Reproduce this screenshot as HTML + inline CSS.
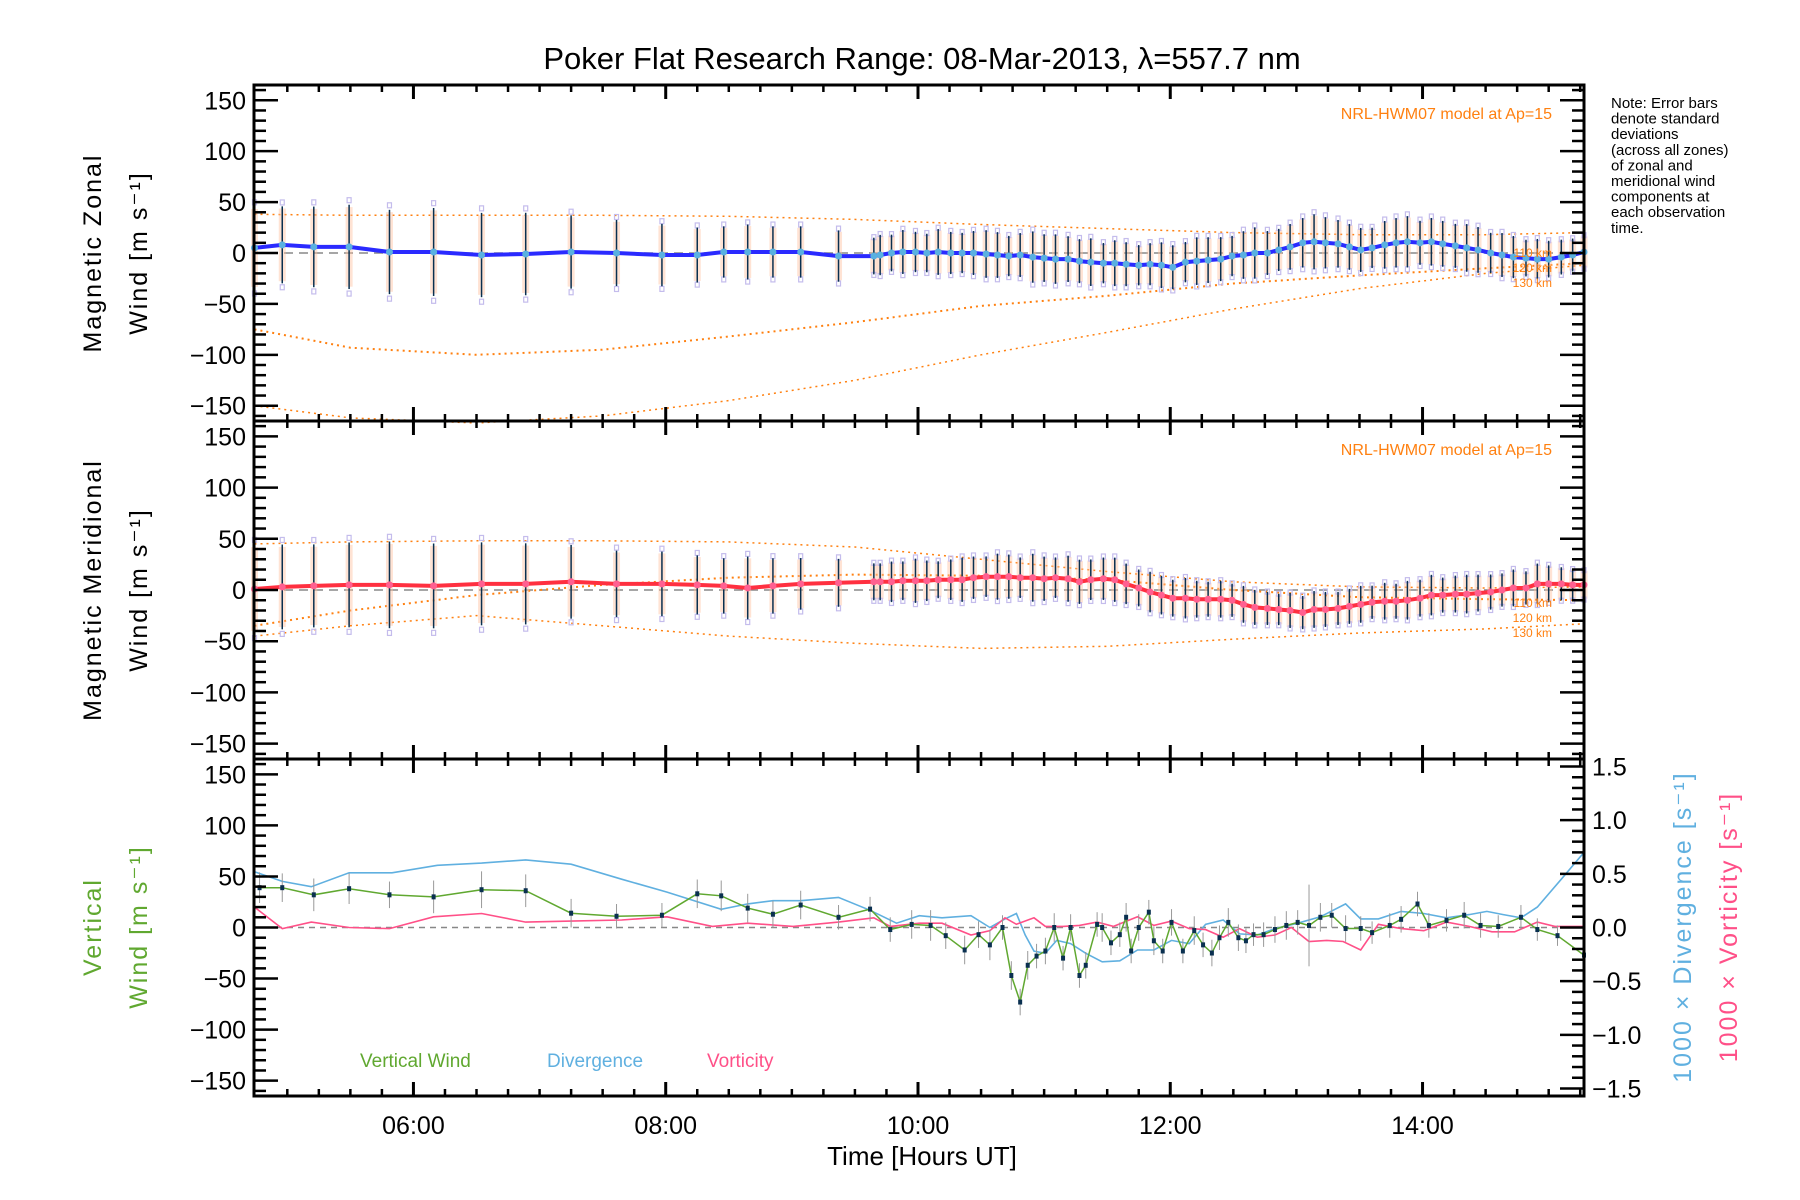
<!DOCTYPE html>
<html><head><meta charset="utf-8"><style>
html,body{margin:0;padding:0;background:#fff;}
svg{display:block;font-family:"Liberation Sans",sans-serif;}
</style></head><body>
<svg id="c" width="1800" height="1200" viewBox="0 0 1800 1200"></svg>
<script>
// ---- data ----
const obsTimes=[4.74,4.96,5.21,5.49,5.81,6.16,6.54,6.89,7.25,7.61,7.97,8.25,8.46,8.65,8.85,9.07,9.37,9.65,
9.70,9.79,9.88,9.98,10.07,10.16,10.26,10.35,10.44,10.54,10.63,10.72,10.81,10.91,11.00,11.09,11.19,11.28,11.37,11.47,11.56,11.65,11.75,11.84,11.93,12.02,12.12,12.21,12.30,12.40,12.49,12.58,12.67,12.77,12.86,12.95,13.05,13.14,13.23,13.33,13.42,13.51,13.60,13.70,13.79,13.88,13.98,14.07,14.16,14.26,14.35,14.44,14.54,14.63,14.72,14.82,14.91,15.00,15.10,15.19,15.28];
const zonalWind=[5,8,6,6,1,1,-2,-1,1,0,-2,-2,1,1,1,1,-3,-3,
-2,0,1,1,0,1,0,0,0,-1,-2,-3,-2,-4,-5,-6,-6,-8,-9,-10,-10,-11,-12,-11,-12,-14,-9,-8,-7,-6,-3,-2,0,0,3,6,10,11,10,9,6,3,5,8,10,11,10,11,9,7,5,3,0,-2,-4,-5,-6,-6,-4,-2,1];
const zonalSd=[45,42,44,46,46,48,46,45,40,36,34,30,28,30,28,28,28,20,
22,20,24,22,21,25,23,22,24,26,25,22,24,28,26,27,25,24,26,22,25,24,22,23,25,24,22,26,25,24,22,26,28,24,23,25,27,30,28,26,25,24,22,26,27,28,24,26,25,24,26,25,22,24,23,20,22,20,19,18,18];
const meridWind=[1,3,4,5,5,4,6,6,8,6,6,5,4,2,4,6,7,8,
8,8,9,9,9,10,10,10,12,13,13,13,12,12,11,12,11,8,10,11,10,6,2,-2,-5,-8,-8,-9,-9,-9,-10,-14,-17,-18,-19,-20,-22,-19,-19,-18,-16,-14,-12,-11,-11,-10,-8,-5,-5,-4,-4,-3,-2,0,2,2,6,6,6,5,5];
const meridSd=[48,46,45,46,47,46,45,44,40,36,35,32,30,34,30,28,26,20,
20,22,21,24,22,20,22,24,23,22,25,24,22,26,24,22,25,24,22,23,24,22,20,22,21,20,22,20,19,20,18,20,19,18,17,19,18,20,19,18,19,20,18,20,19,21,20,22,19,20,21,20,19,18,20,18,22,20,18,17,16];
// model (NRL-HWM07)
const modelT=[4.74,5.5,6.5,7.5,8.5,9.5,10.5,11.5,12.5,13.5,14.5,15.28];
const zonalM110=[38,37,37,37,36,33,28,24,20,18,18,20];
const zonalM120=[-75,-93,-100,-95,-82,-68,-52,-42,-30,-22,-15,-10];
const zonalM130=[-150,-162,-167,-160,-145,-125,-100,-78,-55,-35,-20,-12];
const meridM110=[45,47,48,48,47,42,30,18,8,3,2,3];
const meridM120=[-35,-20,-5,5,12,15,14,10,0,-7,-9,-10];
const meridM130=[-45,-35,-25,-35,-45,-52,-57,-55,-48,-42,-38,-33];
// vertical panel
const vertT=[4.78,4.96,5.21,5.49,5.81,6.16,6.54,6.89,7.25,7.61,7.97,8.25,8.44,8.65,8.85,9.07,9.37,9.62,9.78,9.95,10.10,10.22,10.37,10.48,10.57,10.67,10.74,10.81,10.87,10.94,11.01,11.08,11.15,11.21,11.28,11.33,11.42,11.46,11.53,11.60,11.65,11.69,11.75,11.83,11.87,11.94,12.01,12.10,12.19,12.26,12.33,12.39,12.46,12.54,12.60,12.66,12.74,12.83,12.92,13.01,13.10,13.19,13.28,13.39,13.51,13.60,13.74,13.83,13.96,14.05,14.19,14.33,14.46,14.60,14.78,14.91,15.07,15.28];
const vertWind=[39,39,32,38,32,30,37,36,14,11,12,33,31,19,13,22,10,18,-2,3,2,-8,-22,-7,-17,0,-47,-73,-37,-28,-23,0,-30,0,-47,-37,3,0,-15,-7,10,-23,0,15,-13,-23,5,-23,-3,-17,-25,-10,5,-10,-13,-7,-7,-2,2,5,2,10,12,-1,-1,-5,2,8,23,2,7,12,2,1,10,-2,-8,-27];
const vertSd=[15,14,16,15,13,16,18,16,14,12,12,14,15,14,13,14,12,12,12,14,15,13,14,13,15,12,14,13,14,12,13,14,12,13,12,13,12,14,12,12,14,12,13,12,14,12,13,12,14,12,13,12,14,13,12,11,12,13,14,12,40,14,12,13,12,11,12,13,12,12,11,13,12,11,12,11,10,10];
const divT=[4.74,4.96,5.19,5.49,5.83,6.19,6.54,6.89,7.25,7.65,8.01,8.44,8.65,8.85,9.07,9.37,9.62,9.83,10.01,10.19,10.42,10.57,10.69,10.78,10.85,10.92,11.01,11.10,11.21,11.33,11.46,11.60,11.74,11.87,12.01,12.15,12.28,12.42,12.55,12.69,12.83,13.01,13.19,13.39,13.51,13.65,13.83,14.01,14.19,14.37,14.51,14.64,14.78,14.91,15.10,15.28];
const divergence=[0.52,0.43,0.38,0.51,0.51,0.58,0.60,0.63,0.59,0.45,0.33,0.17,0.22,0.25,0.25,0.28,0.16,0.04,0.11,0.09,0.11,0.0,0.08,0.13,-0.07,-0.22,-0.24,-0.12,-0.15,-0.24,-0.32,-0.31,-0.21,-0.21,-0.12,-0.15,0.03,0.07,-0.06,-0.07,-0.01,0.04,0.10,0.22,0.08,0.08,0.15,0.13,0.09,0.12,0.15,0.12,0.09,0.19,0.45,0.70];
const vortT=[4.74,4.96,5.19,5.49,5.81,6.16,6.54,6.89,7.25,7.65,8.01,8.37,8.65,9.01,9.37,9.65,9.78,10.01,10.19,10.42,10.57,10.69,10.78,10.92,11.01,11.15,11.28,11.42,11.55,11.74,11.87,12.01,12.15,12.28,12.42,12.55,12.69,12.83,12.96,13.10,13.24,13.37,13.51,13.65,13.83,14.01,14.19,14.37,14.55,14.73,14.91,15.05,15.28];
const vorticity=[0.19,-0.01,0.05,0.0,-0.01,0.10,0.13,0.05,0.06,0.07,0.10,0.01,0.04,0.01,0.05,0.09,0.01,0.04,0.04,-0.07,-0.03,0.09,0.03,0.09,0.01,0.01,0.02,0.05,0.01,0.10,0.02,0.06,-0.01,-0.02,-0.09,-0.01,-0.09,-0.07,0.0,-0.13,-0.12,-0.13,-0.21,0.03,-0.01,-0.03,0.05,0.01,-0.04,-0.04,0.05,0.01,0.01];
const xTickLabels=["06:00","08:00","10:00","12:00","14:00"];
const xTickHours=[6,8,10,12,14];
const yTickVals=[150,100,50,0,-50,-100,-150];
const rTickVals=[1.5,1.0,0.5,0.0,-0.5,-1.0,-1.5];

// ---- layout ----
const NS='http://www.w3.org/2000/svg';
const svg=document.getElementById('c');
const L=254,R=1584,T0=4.736,T1=15.28;
const panels=[[85,421],[421,759],[759,1096]];
const YR=165;
function X(t){return L+(t-T0)/(T1-T0)*(R-L);}
function Y(p,v){const [a,b]=panels[p];return (a+b)/2-v/(2*YR)*(b-a);}
function YRt(v){const [a,b]=panels[2];return (a+b)/2-v/(2*1.57)*(b-a);}
function mk(tag,at,parent){const e=document.createElementNS(NS,tag);for(const k in at)e.setAttribute(k,at[k]);(parent||svg).appendChild(e);return e;}
function txt(s,x,y,size,fill,anchor,rot,parent){const e=mk('text',{x:x,y:y,'font-size':size,fill:fill||'#000','text-anchor':anchor||'middle'},parent);if(rot)e.setAttribute('transform','rotate('+rot+' '+x+' '+y+')');e.textContent=s;return e;}
function pline(ts,vs,fy,attrs,parent){let d='';for(let i=0;i<ts.length;i++)d+=(i?'L':'M')+X(ts[i]).toFixed(1)+' '+fy(vs[i]).toFixed(1);attrs.d=d;attrs.fill='none';return mk('path',attrs,parent);}

// title
const ti=txt('Poker Flat Research Range: 08-Mar-2013, \u03bb=557.7 nm',922,69,31,'#000');



// panels 1,2
const names=['zonal','meridional'];
const mean=[zonalWind,meridWind],sds=[zonalSd,meridSd],lc=['#2a2aff','#ff3040'],dc=['#5ab0e0','#ff6090'];
const models=[[zonalM110,zonalM120,zonalM130],[meridM110,meridM120,meridM130]];
for(let p=0;p<2;p++){
  const g=mk('g',{});
  
  
  const zl=mk('line',{x1:L,x2:R,y1:Y(p,0),y2:Y(p,0),stroke:'#888','stroke-width':1.5,'stroke-dasharray':'9,6'},g);
  
  
  const mg=mk('g',{},g);
  
  
  models[p].forEach((m,k)=>{pline(modelT,m,v=>Y(p,v),{stroke:'#ff8010','stroke-width':k==1?2:1.5,'stroke-dasharray':'2,4'},mg);});
  const eg=mk('g',{},g);
  
  
  for(let i=0;i<obsTimes.length;i++){
    const x=X(obsTimes[i]),v=mean[p][i],s=sds[p][i];
    mk('rect',{x:x-3.5,y:Y(p,v+s*0.85),width:7,height:Y(p,v-s*0.85)-Y(p,v+s*0.85),fill:'#ffc0a0',opacity:0.45},eg);
    mk('rect',{x:x-2,y:Y(p,v+s*1.05),width:4,height:5,fill:'none',stroke:'#c4bcec','stroke-width':1.2},eg);
    mk('rect',{x:x-2,y:Y(p,v-s*1.05)-5,width:4,height:5,fill:'none',stroke:'#c4bcec','stroke-width':1.2},eg);
    mk('line',{x1:x,x2:x,y1:Y(p,v+s*0.9),y2:Y(p,v-s*0.9),stroke:'#0a3050','stroke-width':1.5},eg);
  }
  const ml=pline(obsTimes,mean[p],v=>Y(p,v),{stroke:lc[p],'stroke-width':4},g);
  
  
  for(let i=0;i<obsTimes.length;i++){
    const c=mk('circle',{cx:X(obsTimes[i]),cy:Y(p,mean[p][i]),r:3.5,fill:dc[p]},g);
    
    
  }
  const nl=txt('NRL-HWM07 model at Ap=15',1552,panels[p][0]+34,16,'#ff8010','end',0,g);
  
  
  ['110 km','120 km','130 km'].forEach((s,k)=>{const e=txt(s,1552,panels[p][0]+(p?186:172)+k*15,12,'#ff8010','end',0,g);});
}

// panel 3
(function(){
  const g=mk('g',{});
  
  
  const zl=mk('line',{x1:L,x2:R,y1:Y(2,0),y2:Y(2,0),stroke:'#888','stroke-width':1.5,'stroke-dasharray':'6,5'},g);
  
  
  const dl=pline(divT,divergence,YRt,{stroke:'#60b0e0','stroke-width':1.6},g);
  
  
  const vl=pline(vortT,vorticity,YRt,{stroke:'#ff5088','stroke-width':1.6},g);
  
  
  for(let i=0;i<vertT.length;i++){
    const x=X(vertT[i]);
    const b=mk('line',{x1:x,x2:x,y1:Y(2,vertWind[i]+vertSd[i]),y2:Y(2,vertWind[i]-vertSd[i]),stroke:'#999','stroke-width':1},g);
    
    
  }
  const wl=pline(vertT,vertWind,v=>Y(2,v),{stroke:'#60a830','stroke-width':1.5},g);
  
  
  for(let i=0;i<vertT.length;i++){
    const c=mk('rect',{x:X(vertT[i])-2,y:Y(2,vertWind[i])-2.5,width:4,height:5,fill:'#0a3050'},g);
    
    
  }
  const lg=[['Vertical Wind',360,'#60a830'],['Divergence',547,'#60b0e0'],['Vorticity',707,'#ff5088']];
  lg.forEach(a=>{const e=txt(a[0],a[1],1067,19,a[2],'start',0,g);});
})();

// axes
const ax=mk('g',{});


for(let p=0;p<3;p++){
  const [a,b]=panels[p];
  mk('rect',{x:L,y:a,width:R-L,height:b-a,fill:'none',stroke:'#000','stroke-width':3},ax);
  for(let m=5;m<=15.25;m+=0.25){
    if(m<T0)continue;
    const x=X(m),maj=Math.abs(m-Math.round(m))<1e-6&&Math.round(m)%2==0;
    const len=maj?14:7;
    mk('line',{x1:x,x2:x,y1:b,y2:b-len,stroke:'#000','stroke-width':maj?3:2.5},ax);
    mk('line',{x1:x,x2:x,y1:a,y2:a+len,stroke:'#000','stroke-width':maj?3:2.5},ax);
  }
  for(let v=-160;v<=160;v+=10){
    const y=Y(p,v),maj=v%50==0,len=maj?24:12;
    mk('line',{x1:L,x2:L+len,y1:y,y2:y,stroke:'#000','stroke-width':2.5},ax);
    if(p<2)mk('line',{x1:R,x2:R-len,y1:y,y2:y,stroke:'#000','stroke-width':2.5},ax);
  }
  yTickVals.forEach(v=>{const e=txt(v<0?'\u2212'+(-v):String(v),246,Y(p,v)+9,25,'#000','end',0,ax);});
}
for(let i=-15;i<=15;i++){
  const v=i/10,y=YRt(v),maj=i%5==0,len=maj?24:12;
  mk('line',{x1:R,x2:R-len,y1:y,y2:y,stroke:'#000','stroke-width':2.5},ax);
}
rTickVals.forEach(v=>{const e=txt((v<0?'\u2212':'')+Math.abs(v).toFixed(1),1592,YRt(v)+9,25,'#000','start',0,ax);});
xTickHours.forEach((h,i)=>{const e=txt(xTickLabels[i],X(h),1134,25,'#000','middle',0,ax);});
const xl=txt('Time [Hours UT]',922,1165,26,'#000','middle',0,ax);



function ytitle(lines,cy,col,name,xs){
  lines.forEach((s,k)=>{const e=txt(s,xs[k],cy,25,col,'middle',-90);e.style.letterSpacing='2px';});
}
ytitle(['Magnetic Zonal','Wind [m s\u207B\u00B9]'],253,'#000','zonal-y-axis-title',[101,147]);
ytitle(['Magnetic Meridional','Wind [m s\u207B\u00B9]'],590,'#000','meridional-y-axis-title',[101,147]);
ytitle(['Vertical','Wind [m s\u207B\u00B9]'],927,'#60a830','vertical-y-axis-title',[101,147]);
(function(){
  const e=txt('1000 \u00D7 Divergence [s\u207B\u00B9]',1691,927,25,'#60b0e0','middle',-90);
  
  
  e.style.letterSpacing='2px';
  const f=txt('1000 \u00D7 Vorticity [s\u207B\u00B9]',1737,927,25,'#ff5088','middle',-90);
  
  
  f.style.letterSpacing='2px';
})();
const note=['Note: Error bars','denote standard','deviations','(across all zones)','of zonal and','meridional wind','components at','each observation','time.'];
const ng=mk('g',{});


note.forEach((s,k)=>txt(s,1611,108+k*15.6,15,'#000','start',0,ng));
</script>
</body></html>
